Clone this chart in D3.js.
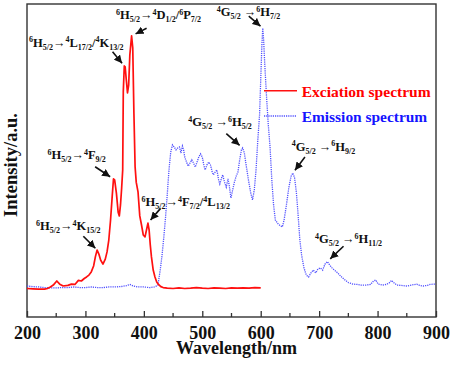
<!DOCTYPE html>
<html>
<head>
<meta charset="utf-8">
<script src="https://cdn.jsdelivr.net/npm/d3@7"></script>
<style>
body { margin: 0; background: #fff; }
svg text { font-family: "Liberation Serif", "Times New Roman", serif; font-weight: bold; }
</style>
</head>
<body>
<div class="chart"></div>
<script>
const width = 454;
const height = 365;
const margin = {top: 4, right: 18, bottom: 48, left: 27};

// Excitation spectrum (red) - [wavelength nm, intensity a.u.]
const excitation = [
    [200, 9.1], [210, 9.0], [220, 8.9], [230, 8.9], [235, 9.1], [240, 9.6], [245, 10.2], [251, 11.5],
    [256, 10.5], [262, 9.9], [270, 10.1], [276, 10.5], [282, 10.4], [288, 11.7], [293, 11.5], [298, 12.3],
    [302, 12.8], [306, 13.4], [310, 14.4], [314, 16.3], [317, 19.2], [320, 21.4], [323, 20.1], [326, 18.2],
    [330, 16.9], [334, 18.5], [337, 20.8], [340, 24.6], [343, 31.0], [346, 39.0], [348, 44.1], [350, 43.8],
    [353, 39.6], [356, 33.5], [358, 32.3], [360, 35.8], [362, 41.2], [363.8, 47], [364.8, 72], [366.5, 80.2],
    [368, 79.9], [370, 75.7], [372, 71.6], [374, 74.1], [376, 83.7], [379, 89.8], [381, 86], [383, 65],
    [385, 48], [387, 43], [390, 40], [393, 32.3], [396, 29.4], [399, 26.2], [402, 25.6], [404.5, 27.8],
    [407, 30.0], [409, 27.8], [411, 23.0], [413, 19.2], [416, 15.0], [419, 12.8], [422, 11.2], [425, 10.4],
    [429, 9.7], [433, 9.4], [440, 9.2], [450, 9.1], [460, 9.3], [470, 9.1], [480, 9.2], [490, 9.4],
    [500, 9.2], [510, 9.1], [520, 9.3], [530, 9.2], [540, 9.1], [550, 9.3], [560, 9.2], [570, 9.3],
    [580, 9.2], [590, 9.4], [600, 9.3]
];

// Emission spectrum (blue, dotted) - [wavelength nm, intensity a.u.]
const emission = [
    [200, 9.9], [210, 9.7], [220, 9.6], [230, 9.4], [240, 9.3], [250, 9.3], [260, 9.4], [270, 9.4],
    [280, 9.6], [290, 9.4], [300, 9.4], [310, 9.6], [320, 9.4], [330, 9.4], [340, 9.6], [350, 9.6],
    [360, 9.7], [370, 10.0], [376, 10.4], [382, 9.9], [390, 9.6], [400, 9.6], [410, 9.4], [418, 9.6],
    [424, 10.1], [428, 15.0], [431, 19.5], [434, 25.2], [437, 31.6], [440, 39.0], [443, 47.0], [446, 52.7],
    [449, 55.0], [452, 54.3], [455, 53.4], [458, 54.0], [461, 54.3], [463.5, 52.4], [466, 54.6], [468, 53.4],
    [470, 51.1], [473, 49.5], [476, 48.2], [479, 49.2], [482, 50.2], [485, 49.2], [488, 47.9], [491, 49.5],
    [494, 51.1], [497, 52.1], [500, 51.1], [503, 48.2], [505, 47.0], [508, 48.6], [511, 49.5], [514, 48.6],
    [517, 46.3], [519, 45.4], [522, 46.3], [525, 47.0], [528, 43.8], [530, 42.5], [533, 44.4], [535, 45.4],
    [538, 43.1], [541, 41.5], [544, 44.1], [546, 42.2], [549, 38.0], [552, 40.6], [555, 43.1], [558, 45.0],
    [561, 46.3], [564, 50.2], [567, 53.4], [569, 54.0], [572, 52.4], [575, 48.6], [579, 43.8], [583, 39.6],
    [586, 37.4], [589, 40.6], [592, 47.0], [595, 56.5], [598, 64.5], [600, 75.7], [602, 86.9], [603.5, 92.3],
    [605, 88.5], [607, 80.5], [610, 70.3], [613, 61.3], [616, 54.3], [619, 43.8], [622, 35.8], [625, 31.0],
    [630, 29.7], [634, 29.1], [637, 28.8], [640, 31.0], [644, 35.8], [648, 41.2], [652, 45.0], [655, 46.0],
    [658, 44.4], [661, 39.9], [664, 32.6], [667, 24.6], [670, 19.8], [674, 15.7], [678, 13.4], [682, 12.8],
    [686, 14.1], [690, 15.0], [694, 14.1], [698, 15.3], [702, 15.7], [706, 15.0], [710, 16.9], [714, 17.7],
    [718, 16.6], [722, 15.7], [726, 15.0], [730, 14.4], [735, 13.4], [740, 12.5], [745, 11.7], [750, 11.0],
    [758, 10.5], [765, 10.4], [772, 10.2], [780, 10.2], [788, 10.4], [793, 11.5], [797, 11.8], [801, 10.5],
    [808, 10.2], [815, 10.4], [820, 10.9], [824, 11.7], [828, 10.9], [833, 10.2], [840, 10.1], [850, 9.9],
    [858, 10.2], [867, 10.5], [872, 10.1], [878, 9.9], [885, 10.1], [890, 10.4], [895, 10.5], [900, 10.5]
];

const xTicks = [200, 300, 400, 500, 600, 700, 800, 900];
const xMinorTicks = [250, 350, 450, 550, 650, 750, 850];

const legendLabels = ["Exciation spectrum", "Emission spectrum"];

// Transition labels: ^{..} superscript, _{..} subscript.
// at = [nm, intensity] the arrow points to, vec = tail offset from tip (px)
const transitions = [
    {label: "^{6}H_{5/2}→^{4}D_{1/2}/^{6}P_{7/2}", tx: 116, ty: 19, at: [379, 89.8], vec: [11, -5.6], gap: 4.5},
    {label: "^{6}H_{5/2}→^{4}L_{17/2}/^{4}K_{13/2}", tx: 29, ty: 46.5, at: [366.5, 80.2], vec: [-9.5, -11.5], gap: 3.5},
    {label: "^{6}H_{5/2}→^{4}F_{9/2}", tx: 47.5, ty: 159, at: [348, 44.1], vec: [-15, -10], gap: 4},
    {label: "^{6}H_{5/2}→^{4}K_{15/2}", tx: 36, ty: 230, at: [320, 21.4], vec: [-12, -12], gap: 2.5},
    {label: "^{6}H_{5/2}→^{4}F_{7/2}/^{4}L_{13/2}", tx: 141.5, ty: 206, at: [407, 30.0], vec: [10, -11.7], gap: 4},
    {label: "^{4}G_{5/2} →^{6}H_{5/2}", tx: 188.3, ty: 126, at: [569, 54.0], vec: [-13.3, -11.7], gap: 4},
    {label: "^{4}G_{5/2} →^{6}H_{7/2}", tx: 216.7, ty: 16, at: [603.5, 92.3], vec: [-11.7, -10], gap: 3},
    {label: "^{4}G_{5/2} →^{6}H_{9/2}", tx: 291.7, ty: 150.5, at: [655, 46.0], vec: [10, -13.3], gap: 3.5},
    {label: "^{4}G_{5/2} →^{6}H_{11/2}", tx: 315, ty: 243.3, at: [714, 17.7], vec: [13.3, -12.6], gap: 4}
];

const svg = d3.select(".chart").append("svg")
    .attr("width", width)
    .attr("height", height);

const xScale = d3.scaleLinear()
    .domain([200, 900])
    .range([margin.left, width - margin.right]);

const yScale = d3.scaleLinear()
    .domain([0, 100])
    .range([height - margin.bottom, margin.top]);

const plotBottom = height - margin.bottom;

// Frame
svg.append("rect")
    .attr("x", margin.left)
    .attr("y", margin.top)
    .attr("width", width - margin.left - margin.right)
    .attr("height", plotBottom - margin.top)
    .attr("fill", "none")
    .attr("stroke", "#333")
    .attr("stroke-width", 1.4);

// X axis, ticks pointing inward
const xAxis = d3.axisBottom(xScale)
    .tickValues(xTicks)
    .tickFormat(d3.format("d"))
    .tickSizeInner(-6)
    .tickSizeOuter(0)
    .tickPadding(9.5);

const gx = svg.append("g")
    .attr("transform", `translate(0, ${plotBottom})`)
    .call(xAxis);
gx.select(".domain").remove();
gx.selectAll(".tick line").attr("stroke", "#333").attr("stroke-width", 1.3);
gx.selectAll(".tick text")
    .attr("fill", "#111")
    .style("font-family", '"Liberation Serif", "Times New Roman", serif')
    .style("font-weight", "bold")
    .style("font-size", "18px");

svg.append("g")
    .selectAll("line")
    .data(xMinorTicks)
    .enter()
    .append("line")
    .attr("x1", d => xScale(d))
    .attr("x2", d => xScale(d))
    .attr("y1", plotBottom)
    .attr("y2", plotBottom - 4)
    .attr("stroke", "#333")
    .attr("stroke-width", 1.3);

// Axis titles
svg.append("text")
    .attr("x", 236.5)
    .attr("y", 354)
    .attr("text-anchor", "middle")
    .attr("font-size", 18)
    .attr("fill", "#111")
    .text("Wavelength/nm");

svg.append("text")
    .attr("transform", "translate(17.3, 165) rotate(-90)")
    .attr("text-anchor", "middle")
    .attr("font-size", 18.5)
    .attr("fill", "#111")
    .text("Intensity/a.u.");

// Lines
const line = d3.line()
    .x(d => xScale(d[0]))
    .y(d => yScale(d[1]));

svg.append("path")
    .datum(emission)
    .attr("d", line)
    .attr("fill", "none")
    .attr("stroke", "#5050ff")
    .attr("stroke-width", 1.3)
    .attr("stroke-dasharray", "1.2,1");

svg.append("path")
    .datum(excitation)
    .attr("d", line)
    .attr("fill", "none")
    .attr("stroke", "#ff1010")
    .attr("stroke-width", 1.7)
    .attr("stroke-linejoin", "round");

// Legend
const legendColors = ["#ff1010", "#5050ff"];
const legendWidths = [129, 125.5];
const legend = svg.append("g");
legendLabels.forEach((label, i) => {
    const ly = 90.7 + i * 25.3;
    legend.append("line")
        .attr("x1", 264).attr("x2", 297)
        .attr("y1", ly).attr("y2", ly)
        .attr("stroke", legendColors[i])
        .attr("stroke-width", i === 0 ? 1.5 : 1.3)
        .attr("stroke-dasharray", i === 0 ? null : "1.2,1");
    legend.append("text")
        .attr("x", 301.7)
        .attr("y", ly + 5.8)
        .attr("font-size", 15.5)
        .attr("textLength", legendWidths[i])
        .attr("lengthAdjust", "spacingAndGlyphs")
        .attr("fill", i === 0 ? "#ff0000" : "#1414ff")
        .text(label);
});

// Arrow head marker
svg.append("defs").append("marker")
    .attr("id", "head")
    .attr("markerUnits", "userSpaceOnUse")
    .attr("markerWidth", 9)
    .attr("markerHeight", 8)
    .attr("refX", 8)
    .attr("refY", 4)
    .attr("orient", "auto")
    .append("path")
    .attr("d", "M0,0 L8,4 L0,8 Z")
    .attr("fill", "#111");

function parseLabel(s) {
    const parts = [];
    const re = /\^\{([^}]*)\}|_\{([^}]*)\}|([^^_]+)/g;
    let m;
    while ((m = re.exec(s))) {
        if (m[1] !== undefined) parts.push({t: m[1], k: "sup"});
        else if (m[2] !== undefined) parts.push({t: m[2], k: "sub"});
        else parts.push({t: m[3], k: "n"});
    }
    return parts;
}

const shift = {sup: -4.5, sub: 3, n: 0};

transitions.forEach(tr => {
    const text = svg.append("text")
        .attr("x", tr.tx)
        .attr("y", tr.ty)
        .attr("fill", "#111");
    let cur = 0;
    parseLabel(tr.label).forEach(p => {
        text.append("tspan")
            .attr("dy", shift[p.k] - cur)
            .attr("font-size", p.k === "n" ? 12.5 : 8)
            .text(p.t);
        cur = shift[p.k];
    });

    const px = xScale(tr.at[0]);
    const py = yScale(tr.at[1]);
    const len = Math.hypot(tr.vec[0], tr.vec[1]);
    const tipX = px + tr.vec[0] / len * tr.gap;
    const tipY = py + tr.vec[1] / len * tr.gap;
    svg.append("line")
        .attr("x1", tipX + tr.vec[0])
        .attr("y1", tipY + tr.vec[1])
        .attr("x2", tipX)
        .attr("y2", tipY)
        .attr("stroke", "#111")
        .attr("stroke-width", 1.6)
        .attr("marker-end", "url(#head)");
});
</script>
</body>
</html>
